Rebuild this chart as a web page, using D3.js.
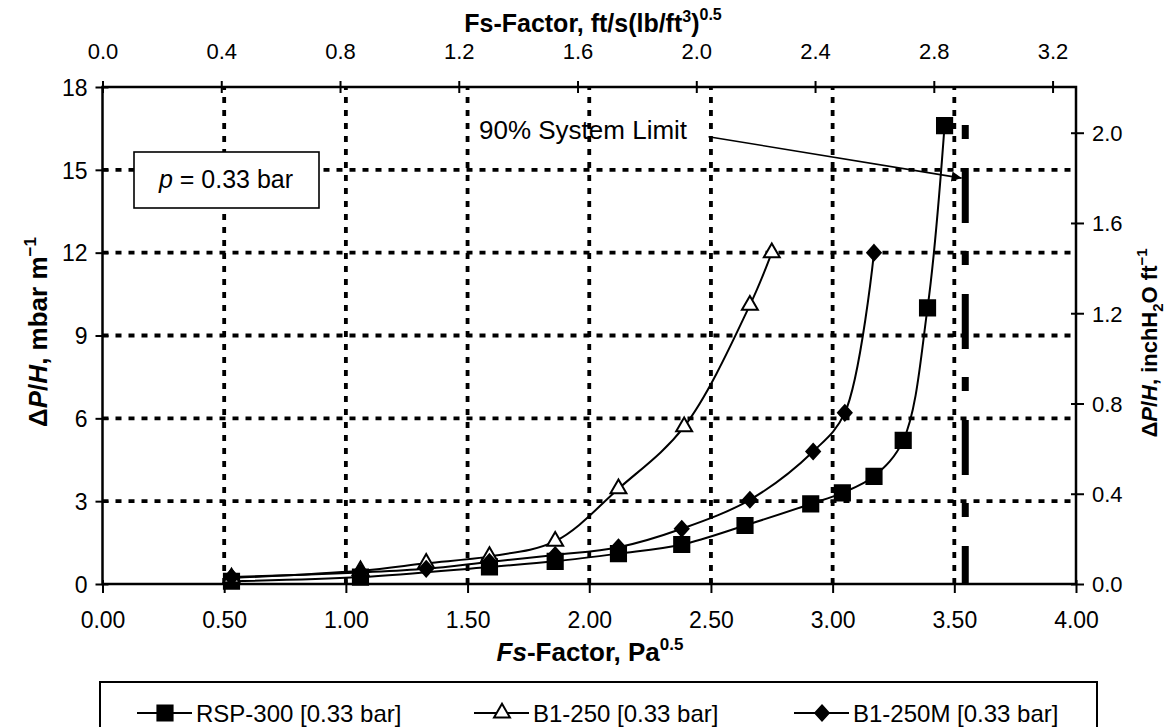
<!DOCTYPE html>
<html><head><meta charset="utf-8">
<script src="https://cdn.jsdelivr.net/npm/d3@7/dist/d3.min.js"></script>
<style>
body{margin:0;background:#fff}
svg, svg text{font-family:"Liberation Sans",Arial,sans-serif;fill:#000}
</style>
</head><body>
<svg id="chart" width="1169" height="727"></svg>
<script>
// ---- data ----
const seriesNames = ["RSP-300 [0.33 bar]", "B1-250 [0.33 bar]", "B1-250M [0.33 bar]"];
const rspFs = [0.53, 1.06, 1.59, 1.86, 2.12, 2.38, 2.64, 2.91, 3.04, 3.17, 3.29, 3.39, 3.46];
const rspDp = [0.10, 0.25, 0.62, 0.82, 1.10, 1.43, 2.12, 2.90, 3.30, 3.90, 5.20, 10.0, 16.6];
const b1Fs  = [0.53, 1.06, 1.33, 1.59, 1.86, 2.12, 2.39, 2.66, 2.75];
const b1Dp  = [0.22, 0.48, 0.75, 1.00, 1.55, 3.45, 5.70, 10.1, 12.0];
const b1mFs = [0.53, 1.06, 1.33, 1.59, 1.86, 2.12, 2.38, 2.66, 2.92, 3.05, 3.17];
const b1mDp = [0.25, 0.42, 0.55, 0.80, 1.05, 1.33, 2.00, 3.05, 4.80, 6.20, 12.0];
const xTicks = [0, 0.5, 1, 1.5, 2, 2.5, 3, 3.5, 4];
const yTicks = [0, 3, 6, 9, 12, 15, 18];
const topTicks = [0, 0.4, 0.8, 1.2, 1.6, 2.0, 2.4, 2.8, 3.2];
const rightTicks = [0, 0.4, 0.8, 1.2, 1.6, 2.0];
const limitFs = 3.545;
const limitTop = 16.62;
const arrowFrom = [2.49, 16.2];
const arrowTo = [3.53, 14.7];
const FS_CONV = 0.3048 * Math.sqrt(16.0185);     // Pa^0.5 per ft/s(lb/ft3)^0.5
const DP_CONV = 100 * 0.3048 / 249.089;          // inchH2O/ft per mbar/m

// ---- layout ----
const svg = d3.select("#chart");
const L = 102.5, R = 1076, T = 87, B = 584;
const x = d3.scaleLinear().domain([0, 4]).range([L, R]);
const y = d3.scaleLinear().domain([0, 18]).range([B, T]);
const xTop = d3.scaleLinear().domain([0, 4 / FS_CONV]).range([L, R]);
const yRight = d3.scaleLinear().domain([0, 18 * DP_CONV]).range([B, T]);

// grid
const grid = svg.append("g").attr("stroke", "#000").attr("stroke-width", 3.8).attr("stroke-dasharray", "6,7");
grid.selectAll("line.v").data(xTicks.filter(d => d > 0 && d < 4)).join("line")
  .attr("x1", d => x(d)).attr("x2", d => x(d)).attr("y1", B).attr("y2", T);
grid.selectAll("line.h").data(yTicks.filter(d => d > 0 && d < 18)).join("line")
  .attr("y1", d => y(d)).attr("y2", d => y(d)).attr("x1", L).attr("x2", R);

// axes
function styleAxis(g, fs) {
  g.attr("font-family", null);
  g.select(".domain").remove();
  g.selectAll(".tick line").attr("stroke", "#000").attr("stroke-width", 2);
  g.selectAll(".tick text").attr("font-size", fs).attr("fill", "#000");
}
const gx = svg.append("g").attr("transform", `translate(0,${B})`)
  .call(d3.axisBottom(x).tickValues(xTicks).tickFormat(d3.format(".2f")).tickSize(9));
styleAxis(gx, 23);
gx.selectAll(".tick line").attr("y1", -4);
gx.selectAll(".tick text").attr("dy", null).attr("y", 44);

const gy = svg.append("g").attr("transform", `translate(${L},0)`)
  .call(d3.axisLeft(y).tickValues(yTicks).tickFormat(d3.format("d")).tickSize(7));
styleAxis(gy, 23);
gy.selectAll(".tick line").attr("x1", 6);
gy.selectAll(".tick text").attr("x", -15).attr("dy", "0.36em");

const gt = svg.append("g").attr("transform", `translate(0,${T})`)
  .call(d3.axisTop(xTop).tickValues(topTicks).tickFormat(d3.format(".1f")).tickSize(6));
styleAxis(gt, 22);
gt.selectAll(".tick line").attr("y1", 6);
gt.selectAll(".tick text").attr("dy", null).attr("y", -28);

const gr = svg.append("g").attr("transform", `translate(${R},0)`)
  .call(d3.axisRight(yRight).tickValues(rightTicks).tickFormat(d3.format(".1f")).tickSize(8));
styleAxis(gr, 22);
gr.selectAll(".tick line").attr("x1", -5);
gr.selectAll(".tick text").attr("x", 16).attr("dy", "0.36em");

// frame
svg.append("rect").attr("x", L).attr("y", T).attr("width", R - L).attr("height", B - T)
  .attr("fill", "none").attr("stroke", "#000").attr("stroke-width", 2.5);

// 90% system limit line
svg.append("line").attr("x1", x(limitFs)).attr("x2", x(limitFs)).attr("y1", y(limitTop)).attr("y2", B)
  .attr("stroke", "#000").attr("stroke-width", 7).attr("stroke-dasharray", "14,29,55,28");

// series
const diamondSym = { draw(ctx, size) { const r = Math.sqrt(size / 2);
  ctx.moveTo(0, -r); ctx.lineTo(r * 0.9, 0); ctx.lineTo(0, r); ctx.lineTo(-r * 0.9, 0); ctx.closePath(); } };
const line = d3.line().x(d => x(d[0])).y(d => y(d[1])).curve(d3.curveCatmullRom.alpha(0.5));
const series = [
  { name: seriesNames[0], pts: d3.zip(rspFs, rspDp), sym: d3.symbolSquare, size: 230, fill: "#000" },
  { name: seriesNames[1], pts: d3.zip(b1Fs, b1Dp), sym: d3.symbolTriangle, size: 110, fill: "#fff" },
  { name: seriesNames[2], pts: d3.zip(b1mFs, b1mDp), sym: diamondSym, size: 115, fill: "#000" }
];
series.forEach(s => {
  svg.append("path").attr("d", line(s.pts)).attr("fill", "none").attr("stroke", "#000").attr("stroke-width", 2);
});
series.forEach(s => {
  svg.append("g").selectAll("path").data(s.pts).join("path")
    .attr("transform", d => `translate(${x(d[0])},${y(d[1])})`)
    .attr("d", d3.symbol().type(s.sym).size(s.size))
    .attr("fill", s.fill).attr("stroke", "#000").attr("stroke-width", 2);
});

// annotation: 90% System Limit
svg.append("defs").append("marker").attr("id", "arr").attr("viewBox", "0 0 10 10")
  .attr("refX", 10).attr("refY", 5).attr("markerWidth", 13).attr("markerHeight", 10)
  .attr("markerUnits", "userSpaceOnUse").attr("orient", "auto")
  .append("path").attr("d", "M0,0 L10,5 L0,10 z").attr("fill", "#000");
svg.append("text").attr("x", 479).attr("y", 139).attr("font-size", 26).text("90% System Limit");
svg.append("line").attr("x1", x(arrowFrom[0])).attr("y1", y(arrowFrom[1]))
  .attr("x2", x(arrowTo[0])).attr("y2", y(arrowTo[1]))
  .attr("stroke", "#000").attr("stroke-width", 1.6).attr("marker-end", "url(#arr)");

// annotation box p = 0.33 bar
svg.append("rect").attr("x", 134).attr("y", 152).attr("width", 185).attr("height", 56)
  .attr("fill", "#fff").attr("stroke", "#000").attr("stroke-width", 1.6);
const pt = svg.append("text").attr("x", 226).attr("y", 188).attr("text-anchor", "middle").attr("font-size", 25);
pt.append("tspan").attr("font-style", "italic").text("p");
pt.append("tspan").text(" = 0.33 bar");

// axis titles
const bt = svg.append("text").attr("x", 590).attr("y", 661).attr("text-anchor", "middle")
  .attr("font-size", 26).attr("font-weight", "bold");
bt.append("tspan").attr("font-style", "italic").text("Fs");
bt.append("tspan").text("-Factor, Pa");
bt.append("tspan").attr("dy", -11).attr("font-size", 17).text("0.5");

const tt = svg.append("text").attr("x", 593).attr("y", 32).attr("text-anchor", "middle")
  .attr("font-size", 25).attr("font-weight", "bold");
tt.append("tspan").text("Fs-Factor, ft/s(lb/ft");
tt.append("tspan").attr("dy", -10).attr("font-size", 16).text("3");
tt.append("tspan").attr("dy", 10).text(")");
tt.append("tspan").attr("dy", -12).attr("font-size", 16).text("0.5");

const lt = svg.append("text").attr("transform", "translate(47,332) rotate(-90)").attr("text-anchor", "middle")
  .attr("font-size", 26).attr("font-weight", "bold");
lt.append("tspan").text("Δ");
lt.append("tspan").attr("font-style", "italic").text("P");
lt.append("tspan").text("/");
lt.append("tspan").attr("font-style", "italic").text("H");
lt.append("tspan").text(", mbar m");
lt.append("tspan").attr("dy", -11).attr("font-size", 17).text("−1");

const rt = svg.append("text").attr("transform", "translate(1157,343) rotate(-90)").attr("text-anchor", "middle")
  .attr("font-size", 22).attr("font-weight", "bold");
rt.append("tspan").text("Δ");
rt.append("tspan").attr("font-style", "italic").text("P");
rt.append("tspan").text("/");
rt.append("tspan").attr("font-style", "italic").text("H");
rt.append("tspan").text(", inchH");
rt.append("tspan").attr("dy", 6).attr("font-size", 15).text("2");
rt.append("tspan").attr("dy", -6).text("O ft");
rt.append("tspan").attr("dy", -10).attr("font-size", 15).text("−1");

// legend
svg.append("rect").attr("x", 100).attr("y", 682).attr("width", 997).attr("height", 60)
  .attr("fill", "#fff").attr("stroke", "#000").attr("stroke-width", 2);
const legX = [137, 474, 794];
series.forEach((s, i) => {
  const g = svg.append("g").attr("transform", `translate(${legX[i]},713)`);
  g.append("line").attr("x1", 0).attr("x2", 55).attr("y1", 0).attr("y2", 0).attr("stroke", "#000").attr("stroke-width", 2);
  g.append("path").attr("transform", "translate(28,0)").attr("d", d3.symbol().type(s.sym).size(s.size))
    .attr("fill", s.fill).attr("stroke", "#000").attr("stroke-width", 2);
  g.append("text").attr("x", 59).attr("y", 9).attr("font-size", 24).text(s.name);
});
</script>
</body></html>
